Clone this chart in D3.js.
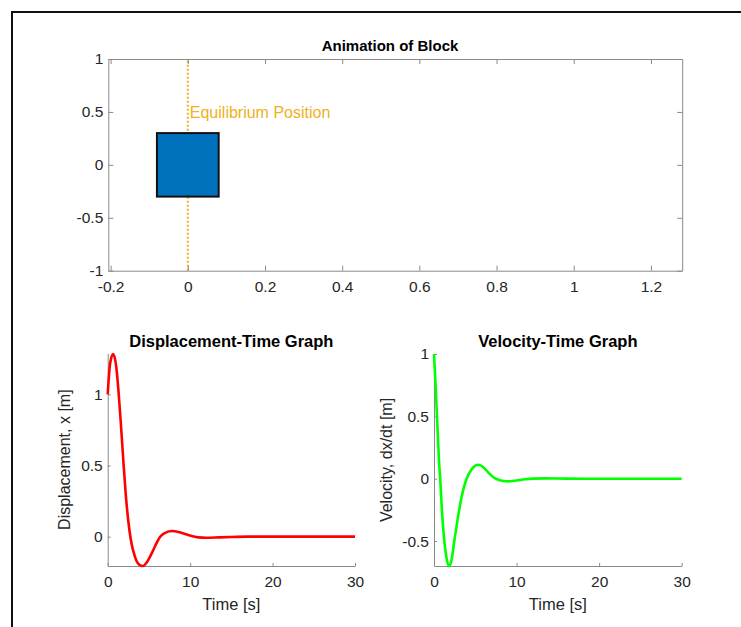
<!DOCTYPE html>
<html>
<head>
<meta charset="utf-8">
<script src="https://cdn.jsdelivr.net/npm/d3@7"></script>
<style>
  body { margin: 0; background: #fff; }
  text { font-family: "Liberation Sans", Arial, sans-serif; }
</style>
</head>
<body>
<script>
// ---- data ----
// block animation panel
const blockX = [-0.08, 0.08];
const blockY = [-0.3, 0.3];
const equilibriumX = 0;
const equilibriumLabelY = 0.5;
const topXLimits = [-0.206, 1.281];
const topYLimits = [-1, 1];
const topXTicks = [-0.2, 0, 0.2, 0.4, 0.6, 0.8, 1, 1.2];
const topYTicks = [-1, -0.5, 0, 0.5, 1];

// displacement vs time
const dispTime = [0, 0.3, 0.65, 1.0, 1.3, 1.6, 1.9, 2.2, 2.5, 2.8, 3.3, 3.8, 4.25, 4.8, 5.34, 5.8, 6.3, 6.8, 7.8, 8.6, 9.4, 10.2, 11, 12, 13.5, 15, 17, 20, 25, 30];
const dispValue = [1.0, 1.22, 1.283, 1.21, 1.03, 0.79, 0.53, 0.29, 0.11, -0.02, -0.14, -0.195, -0.206, -0.175, -0.117, -0.06, -0.005, 0.022, 0.04, 0.033, 0.019, 0.005, -0.005, -0.008, -0.005, -0.002, 0, 0, 0, 0];
const dispYLimits = [-0.206, 1.288];
const dispYTicks = [0, 0.5, 1];

// velocity vs time
const velTime = [0, 0.2, 0.4, 0.6, 0.75, 1.0, 1.25, 1.5, 1.8, 2.1, 2.46, 3.0, 3.5, 3.95, 4.5, 5.0, 5.4, 6.0, 6.6, 7.2, 7.8, 8.4, 9.0, 10, 11, 12, 13.5, 16, 20, 25, 30];
const velValue = [1, 0.74, 0.44, 0.15, 0, -0.3, -0.5, -0.63, -0.7, -0.66, -0.5, -0.27, -0.1, 0, 0.07, 0.105, 0.112, 0.09, 0.048, 0.012, -0.008, -0.018, -0.021, -0.014, -0.005, 0.001, 0.003, 0.001, 0, 0, 0];
const velYLimits = [-0.7, 1];
const velYTicks = [-0.5, 0, 0.5, 1];

const timeLimits = [0, 30];
const timeTicks = [0, 10, 20, 30];

// ---- canvas ----
const svg = d3.select("body").append("svg")
    .attr("width", 741)
    .attr("height", 627);

// figure frame (runs off the right and bottom edges)
svg.append("rect")
    .attr("x", 12).attr("y", 12)
    .attr("width", 800).attr("height", 700)
    .attr("fill", "none")
    .attr("stroke", "#111")
    .attr("stroke-width", 2);

const axisColor = "#8a8a8a";
const textColor = "#262626";
const fmt = d => String(d);

function styleAxis(g) {
    g.select(".domain").attr("stroke", axisColor);
    g.selectAll(".tick line").attr("stroke", axisColor);
    g.selectAll(".tick text")
        .attr("fill", textColor)
        .style("font-size", "15.5px")
        .style("font-family", "'Liberation Sans', Arial, sans-serif");
}

// ---- top panel: animation of block ----
const topBox = { left: 108.3, right: 682.2, top: 59, bottom: 270.7 };
const xTop = d3.scaleLinear().domain(topXLimits).range([topBox.left, topBox.right]);
const yTop = d3.scaleLinear().domain(topYLimits).range([topBox.bottom, topBox.top]);

// equilibrium dotted line
svg.append("line")
    .attr("x1", xTop(equilibriumX)).attr("x2", xTop(equilibriumX))
    .attr("y1", yTop(topYLimits[0])).attr("y2", yTop(topYLimits[1]))
    .attr("stroke", "#EDB120")
    .attr("stroke-width", 2)
    .attr("stroke-dasharray", "2,2");

svg.append("text")
    .attr("x", xTop(equilibriumX) + 2)
    .attr("y", yTop(equilibriumLabelY) + 6)
    .attr("fill", "#EDB120")
    .style("font-size", "16px")
    .text("Equilibrium Position");

// the block
svg.append("rect")
    .attr("x", xTop(blockX[0]))
    .attr("y", yTop(blockY[1]))
    .attr("width", xTop(blockX[1]) - xTop(blockX[0]))
    .attr("height", yTop(blockY[0]) - yTop(blockY[1]))
    .attr("fill", "#0072BD")
    .attr("stroke", "#111")
    .attr("stroke-width", 2);

// axes with box
svg.append("g")
    .attr("transform", `translate(0,${topBox.bottom})`)
    .call(d3.axisBottom(xTop).tickValues(topXTicks).tickFormat(fmt)
        .tickSizeInner(-5).tickSizeOuter(0).tickPadding(10))
    .call(styleAxis);
svg.append("g")
    .attr("transform", `translate(0,${topBox.top})`)
    .call(d3.axisTop(xTop).tickValues(topXTicks).tickFormat("")
        .tickSizeInner(-5).tickSizeOuter(0))
    .call(styleAxis);
svg.append("g")
    .attr("transform", `translate(${topBox.left},0)`)
    .call(d3.axisLeft(yTop).tickValues(topYTicks).tickFormat(fmt)
        .tickSizeInner(-5).tickSizeOuter(0).tickPadding(5))
    .call(styleAxis);
svg.append("g")
    .attr("transform", `translate(${topBox.right},0)`)
    .call(d3.axisRight(yTop).tickValues(topYTicks).tickFormat("")
        .tickSizeInner(-5).tickSizeOuter(0))
    .call(styleAxis);

svg.append("text")
    .attr("x", 390).attr("y", 51)
    .attr("text-anchor", "middle")
    .attr("fill", "#000")
    .style("font-size", "15px")
    .style("font-weight", "bold")
    .text("Animation of Block");

// ---- lower panels ----
function timePanel(box, times, values, yLimits, yTicks, color, title, yLabel, yLabelX) {
    const x = d3.scaleLinear().domain(timeLimits).range([box.left, box.right]);
    const y = d3.scaleLinear().domain(yLimits).range([box.bottom, box.top]);

    svg.append("g")
        .attr("transform", `translate(0,${box.bottom})`)
        .call(d3.axisBottom(x).tickValues(timeTicks).tickFormat(fmt)
            .tickSizeInner(-3).tickSizeOuter(0).tickPadding(10))
        .call(styleAxis);
    svg.append("g")
        .attr("transform", `translate(${box.left},0)`)
        .call(d3.axisLeft(y).tickValues(yTicks).tickFormat(fmt)
            .tickSizeInner(-3).tickSizeOuter(0).tickPadding(5))
        .call(styleAxis);

    const pts = times.map((t, i) => [t, values[i]]);
    const line = d3.line()
        .x(d => x(d[0]))
        .y(d => y(d[1]))
        .curve(d3.curveMonotoneX);

    svg.append("path")
        .datum(pts)
        .attr("fill", "none")
        .attr("stroke", color)
        .attr("stroke-width", 2.6)
        .attr("stroke-linejoin", "round")
        .attr("d", line);

    const cx = (box.left + box.right) / 2;
    svg.append("text")
        .attr("x", cx).attr("y", 346.7)
        .attr("text-anchor", "middle")
        .attr("fill", "#000")
        .style("font-size", "16.5px")
        .style("font-weight", "bold")
        .text(title);

    svg.append("text")
        .attr("x", cx).attr("y", 610)
        .attr("text-anchor", "middle")
        .attr("fill", textColor)
        .style("font-size", "16.5px")
        .text("Time [s]");

    svg.append("text")
        .attr("transform", `translate(${yLabelX},${(box.top + box.bottom) / 2}) rotate(-90)`)
        .attr("text-anchor", "middle")
        .attr("fill", textColor)
        .style("font-size", "16px")
        .text(yLabel);
}

timePanel({ left: 107.7, right: 355, top: 353.3, bottom: 566 },
    dispTime, dispValue, dispYLimits, dispYTicks, "#FF0000",
    "Displacement-Time Graph", "Displacement, x [m]", 70);

timePanel({ left: 434, right: 681.7, top: 354, bottom: 566 },
    velTime, velValue, velYLimits, velYTicks, "#00FF00",
    "Velocity-Time Graph", "Velocity, dx/dt [m]", 392);
</script>
</body>
</html>
